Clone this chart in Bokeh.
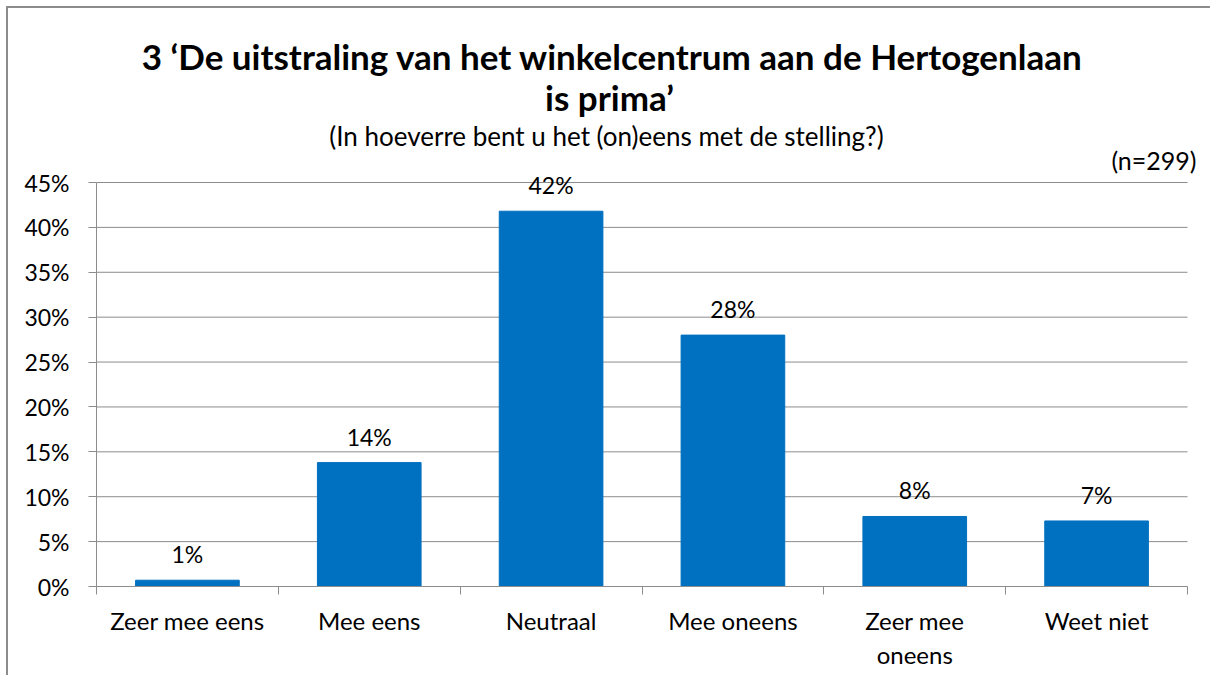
from bokeh.plotting import figure
from bokeh.models import (ColumnDataSource, Range1d, FixedTicker, LinearAxis,
                          PrintfTickFormatter, LabelSet, Label)
from bokeh.core.properties import value
from bokeh.embed import file_html
from bokeh.resources import INLINE

categories = ["Zeer mee eens", "Mee eens", "Neutraal", "Mee oneens", "Zeer mee\noneens", "Weet niet"]
values = [0.7, 13.8, 41.8, 28.0, 7.8, 7.3]
y_ticks = [0, 5, 10, 15, 20, 25, 30, 35, 40, 45]
title_line1 = "3 \u2018De uitstraling van het winkelcentrum aan de Hertogenlaan"
title_line2 = "is prima\u2019"
subtitle = "(In hoeverre bent u het (on)eens met de stelling?)"
n_text = "(n=299)"

FONT = "Lato"
GREY = "#8c8c8c"

ncat = len(categories)
xs = [i + 0.5 for i in range(ncat)]
labels = [f"{round(v)}%" for v in values]
src = ColumnDataSource(dict(x=xs, top=values, label=labels))

W, H = 1204, 669
BORDER_LEFT, BORDER_BOTTOM = 88, 91
FRAME_W = W - BORDER_LEFT
FRAME_H = H - BORDER_BOTTOM
AXIS_W, AXIS_H = 1091, 404           # pixel size of the category axis / 0..45 % scale
x_end = ncat * FRAME_W / AXIS_W
y_end = y_ticks[-1] * FRAME_H / AXIS_H

p = figure(width=W, height=H, output_backend="svg", toolbar_location=None,
           x_range=Range1d(0, x_end), y_range=Range1d(0, y_end),
           x_axis_type=None, y_axis_type=None,
           min_border_left=BORDER_LEFT, min_border_right=0, min_border_top=0,
           min_border_bottom=BORDER_BOTTOM)
p.title = None
p.outline_line_color = None
p.background_fill_color = "white"
p.border_fill_color = "white"
# chart border only visible on top and left (as in the cropped reference)
p.styles = {"margin-left": "8px", "margin-top": "8px",
            "box-shadow": f"-2px -2px 0px 0px {GREY}"}

# horizontal gridlines limited to the category span
p.segment(x0=[0] * len(y_ticks), x1=[ncat] * len(y_ticks), y0=y_ticks, y1=y_ticks,
          line_color=GREY, line_width=1)
p.xgrid.visible = False
p.ygrid.visible = False

p.vbar(x="x", top="top", width=0.57, bottom=0, source=src,
       fill_color="#0070C0", line_color="#0070C0")

# y axis
yaxis = LinearAxis(ticker=FixedTicker(ticks=y_ticks),
                   formatter=PrintfTickFormatter(format="%d%%"),
                   bounds=(y_ticks[0], y_ticks[-1]))
yaxis.axis_line_color = GREY
yaxis.major_tick_line_color = GREY
yaxis.major_tick_out = 8
yaxis.major_tick_in = 0
yaxis.minor_tick_line_color = None
yaxis.major_label_text_font = FONT
yaxis.major_label_text_font_size = "23px"
yaxis.major_label_text_color = "black"
yaxis.major_label_standoff = 19
p.add_layout(yaxis, "left")

# x axis
xaxis = LinearAxis(ticker=FixedTicker(ticks=xs, minor_ticks=list(range(ncat + 1))),
                   bounds=(0, ncat))
xaxis.major_label_overrides = {x: c for x, c in zip(xs, categories)}
xaxis.axis_line_color = GREY
xaxis.major_tick_line_color = None
xaxis.minor_tick_line_color = GREY
xaxis.minor_tick_out = 8
xaxis.minor_tick_in = 0
xaxis.major_label_text_font = FONT
xaxis.major_label_text_font_size = "24px"
xaxis.major_label_text_color = "black"
xaxis.major_label_standoff = 11
p.add_layout(xaxis, "below")

# data labels
p.add_layout(LabelSet(x="x", y="top", text="label", source=src,
                      text_font=value(FONT), text_font_size="23px", text_color="black",
                      text_align="center", text_baseline="middle", y_offset=26))

# titles, positioned in screen pixels relative to the frame bottom-left
def add_text(txt, x, dy, size, bold=False, align="center"):
    p.add_layout(Label(x=x, y=AXIS_H + dy, x_units="screen", y_units="screen", text=txt,
                       text_font=FONT, text_font_size=size,
                       text_font_style="bold" if bold else "normal",
                       text_color="black", text_align=align, text_baseline="middle"))

add_text(title_line1, 516, 127, "35px", bold=True)
add_text(title_line2, 513, 86, "35px", bold=True)
add_text(subtitle, 510, 47, "26px")
add_text(n_text, 1100, 23, "25px", align="right")

open("out.html", "w").write(file_html(p, INLINE))
